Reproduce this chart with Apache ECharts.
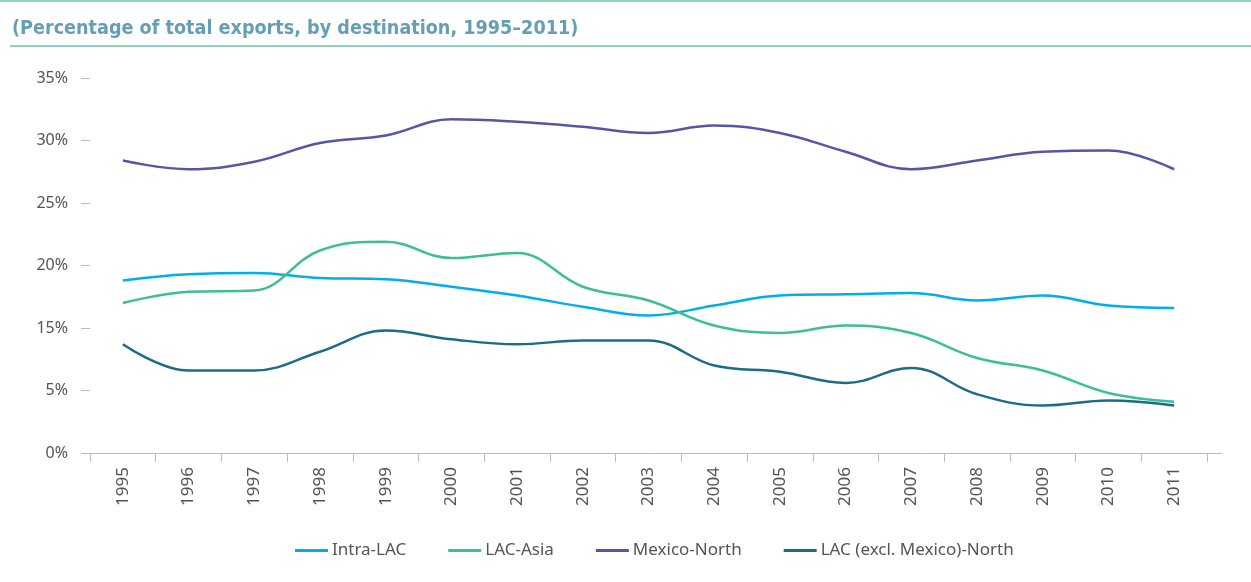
<!DOCTYPE html>
<html>
<head>
<meta charset="utf-8">
<script src="https://cdn.jsdelivr.net/npm/echarts@6/dist/echarts.min.js"></script>
<style>
html,body{margin:0;padding:0;background:#fff;}
#chart{width:1251px;height:582px;}
</style>
</head>
<body>
<div id="chart"></div>
<script>
const years = ["1995","1996","1997","1998","1999","2000","2001","2002","2003","2004","2005","2006","2007","2008","2009","2010","2011"];
const tickLabels = ["0%","5%","15%","20%","25%","30%","35%"];
const intraLAC = [18.8,19.3,19.4,19.0,18.9,18.3,17.6,16.7,16.0,16.8,17.6,17.7,17.8,17.2,17.6,16.8,16.6];
const lacAsia = [17.0,17.9,18.0,21.2,21.9,20.6,21.0,18.3,17.2,15.2,14.6,15.2,14.6,12.6,11.6,9.8,9.1];
const mexicoNorth = [28.4,27.7,28.3,29.8,30.4,31.7,31.5,31.1,30.6,31.2,30.6,29.1,27.7,28.4,29.1,29.2,27.7];
const lacExclMexicoNorth = [13.7,11.6,11.6,13.1,14.8,14.1,13.7,14.0,14.0,12.0,11.5,10.6,11.8,9.7,8.8,9.2,8.8];

const seriesNames = ["Intra-LAC","LAC-Asia","Mexico-North","LAC (excl. Mexico)-North"];
const seriesData = [intraLAC, lacAsia, mexicoNorth, lacExclMexicoNorth];
const colors = ["#00AEEF","#3DBE95","#5655A8","#1B6C87"];

const chart = echarts.init(document.getElementById('chart'));
const font = "'Noto Sans', sans-serif";
chart.setOption({
  animation: false,
  color: colors,
  title: {
    text: "(Percentage of total exports, by destination, 1995\u20132011)",
    left: 7, top: 14,
    textStyle: {fontFamily: "'DejaVu Sans Condensed', 'Liberation Sans Narrow', sans-serif", fontWeight: 'bold', fontSize: 19.6, color: '#659FB5'}
  },
  graphic: [
    {type:'rect', shape:{x:0,y:0,width:1251,height:2}, style:{fill:'#8FD3BC'}},
    {type:'rect', shape:{x:10,y:45,width:1241,height:2}, style:{fill:'#8FD3BC'}},
    {type:'line', shape:{x1:81,y1:453.5,x2:90,y2:453.5}, style:{stroke:'#BBBBBB',lineWidth:1}},
    {type:'line', shape:{x1:1207,y1:453.5,x2:1222,y2:453.5}, style:{stroke:'#BBBBBB',lineWidth:1}}
  ],
  legend: {
    bottom: 18, left: 290,
    itemWidth: 33, itemHeight: 3, itemGap: 42,
    icon: 'rect',
    textStyle: {fontFamily: font, fontSize: 17, color: '#555', padding: [0,0,0,-1]},
    data: seriesNames
  },
  grid: {left: 90, top: 78, width: 1117, height: 375, containLabel: false},
  xAxis: {
    type: 'category', data: years, boundaryGap: true,
    axisLine: {lineStyle: {color: '#BBBBBB'}},
    axisTick: {show: true, length: 9, lineStyle: {color: '#BBBBBB'}},
    axisLabel: {rotate: 90, margin: 14, fontFamily: font, fontSize: 17, color: '#555'}
  },
  yAxis: {
    type: 'value', min: 5, max: 35, interval: 5,
    splitLine: {show: false},
    axisLine: {show: false},
    axisTick: {show: true, length: 9, lineStyle: {color: '#BBBBBB'}},
    axisLabel: {
      margin: 22, fontFamily: font, fontSize: 16, color: '#555',
      formatter: function(v){ return tickLabels[Math.round((v-5)/5)]; }
    }
  },
  series: seriesNames.map((n,i)=>({
    name: n, type: 'line', data: seriesData[i], smooth: 0.4,
    symbol: 'none', lineStyle: {width: 2.5, color: colors[i]}
  }))
});
</script>
</body>
</html>
